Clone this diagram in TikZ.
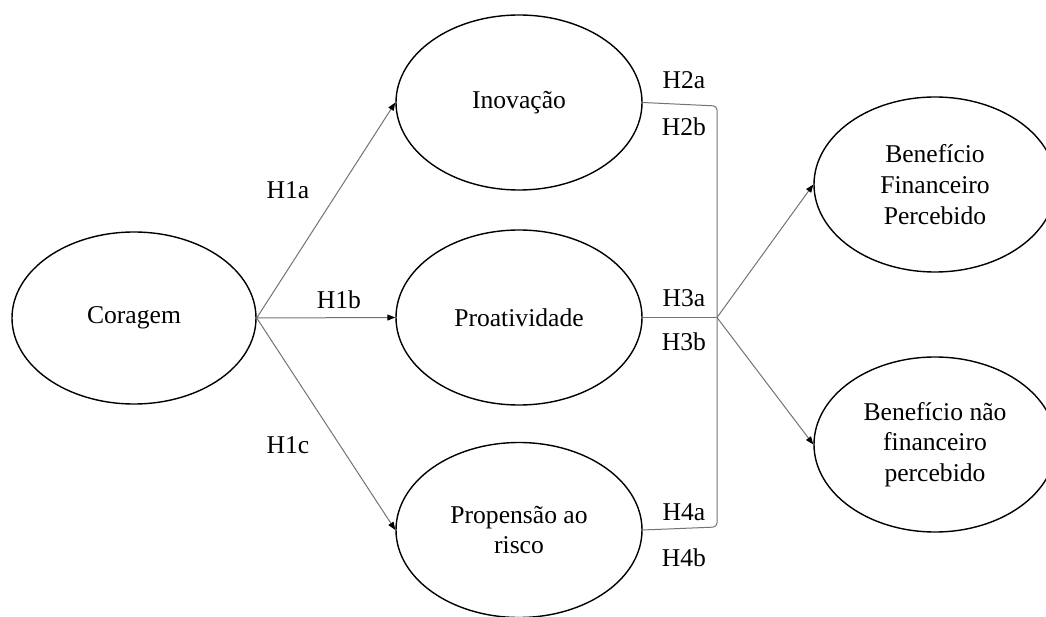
\documentclass[tikz,border=0pt]{standalone}
\usepackage{fontspec}
\setmainfont{Liberation Serif}
\usetikzlibrary{shapes.geometric,arrows.meta}
\begin{document}
\begin{tikzpicture}[x=1pt,y=-1pt,
  construct/.style={ellipse,draw=black,line width=1.4pt,minimum width=246pt,minimum height=175pt,inner sep=0pt,align=center,font=\fontsize{25.6}{30.7}\selectfont},
  lbl/.style={font=\fontsize{25.6}{30.7}\selectfont,inner sep=0pt},
  link/.style={draw=black!55,line width=1pt},
  arr/.style={link,-{Triangle[length=8pt,width=6pt,color=black]}}]
\useasboundingbox (0,0) rectangle (1046,617);
\node[construct,minimum width=244pt,minimum height=172pt] (cor) at (134,318) {Coragem};
\node[construct] (ino) at (519,102.5) {Inovação};
\node[construct] (pro) at (519,317.5) {Proatividade};
\node[construct] (ris) at (519,530) {Propensão ao\\risco};
\node[construct,minimum width=242pt] (bf) at (935,184.5) {Benefício\\Financeiro\\Percebido};
\node[construct,minimum width=242pt] (bnf) at (935,444.5) {Benefício não\\financeiro\\percebido};
\coordinate (J) at (717,317.5);
\draw[arr] (cor.east) -- (ino.west);
\draw[arr] (cor.east) -- (pro.west);
\draw[arr] (cor.east) -- (ris.west);
\draw[link,rounded corners=4pt] (ino.east) -- (717,106) -- (717,527) -- (ris.east);
\draw[link] (pro.east) -- (J);
\draw[arr] (J) -- (bf.west);
\draw[arr] (J) -- (bnf.west);
\node[lbl] (h1a) at (288,190) {H1a};
\node[lbl] (h1b) at (339,300) {H1b};
\node[lbl] (h1c) at (288,445) {H1c};
\node[lbl] (h2a) at (684,80) {H2a};
\node[lbl] (h2b) at (684,127) {H2b};
\node[lbl] (h3a) at (684,298) {H3a};
\node[lbl] (h3b) at (684,342) {H3b};
\node[lbl] (h4a) at (684,512) {H4a};
\node[lbl] (h4b) at (684,558) {H4b};
\end{tikzpicture}
\end{document}
